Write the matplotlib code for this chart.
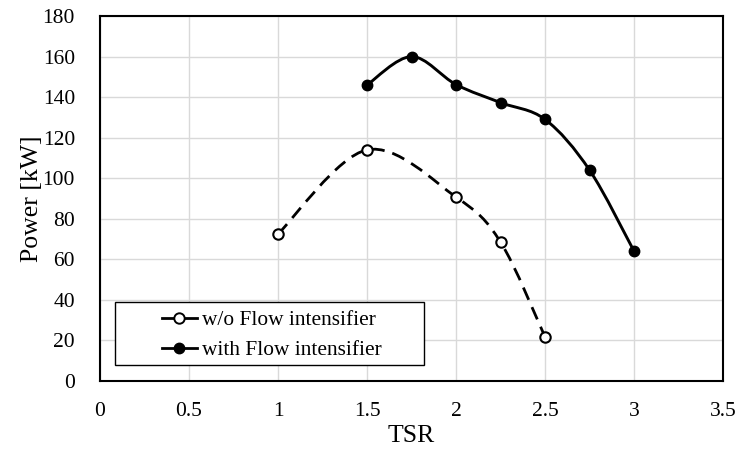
import numpy as np
import matplotlib.pyplot as plt
from matplotlib.path import Path
from matplotlib.patches import PathPatch, Rectangle
from matplotlib.lines import Line2D

plt.rcParams['font.family'] = ['Liberation Serif', 'DejaVu Serif']

tsr_without = [1.0, 1.5, 2.0, 2.25, 2.5]
power_without = [72.5, 114, 90.7, 68.5, 21.7]

tsr_with = [1.5, 1.75, 2.0, 2.25, 2.5, 2.75, 3.0]
power_with = [146, 160, 146.2, 137.3, 129, 104, 64]


def smooth_path(xs, ys):
    # excel-style smoothed line: catmull-rom segments as cubic beziers
    p = np.column_stack([xs, ys]).astype(float)
    ext = np.vstack([p[0], p, p[-1]])
    verts = [p[0]]
    codes = [Path.MOVETO]
    for i in range(len(p) - 1):
        p0, p1, p2, p3 = ext[i], ext[i + 1], ext[i + 2], ext[i + 3]
        verts += [p1 + (p2 - p0) / 6, p2 - (p3 - p1) / 6, p2]
        codes += [Path.CURVE4] * 3
    return Path(verts, codes)


fig = plt.figure(figsize=(7.47, 4.5), dpi=100)
ax = fig.add_axes([0.1339, 0.1533, 0.8341, 0.8111])

ax.add_patch(PathPatch(smooth_path(tsr_without, power_without), fill=False,
                       edgecolor='black', linewidth=2.0,
                       linestyle=(0, (4.8, 2.9)), zorder=3))
ax.plot(tsr_without, power_without, linestyle='none', marker='o', markersize=7.5,
        markerfacecolor='white', markeredgecolor='black', markeredgewidth=1.5, zorder=4)

ax.add_patch(PathPatch(smooth_path(tsr_with, power_with), fill=False,
                       edgecolor='black', linewidth=2.1, zorder=3))
ax.plot(tsr_with, power_with, linestyle='none', marker='o', markersize=7.5,
        markerfacecolor='black', markeredgecolor='black', zorder=4)

ax.set_xlim(0, 3.5)
ax.set_ylim(0, 180)
ax.set_xticks(np.arange(0, 3.51, 0.5))
ax.set_xticklabels(['0', '0.5', '1', '1.5', '2', '2.5', '3', '3.5'])
ax.set_yticks(np.arange(0, 181, 20))
ax.grid(True, color='#d9d9d9', linewidth=1)
ax.set_axisbelow(True)
ax.tick_params(length=0, labelsize=15.5, pad=15)
ax.tick_params(axis='y', pad=18)
for s in ax.spines.values():
    s.set_linewidth(1.5)

ax.set_xlabel('TSR', fontsize=18.5, labelpad=3)
ax.set_ylabel('Power [kW]', fontsize=18.5, labelpad=0)

# legend box
ax.add_patch(Rectangle((0.024, 0.044), 0.496, 0.172, transform=ax.transAxes,
                       facecolor='white', edgecolor='black', linewidth=1, zorder=5))
handles = [
    Line2D([], [], color='black', linestyle='-', linewidth=2, marker='o',
           markersize=7.5, markerfacecolor='white', markeredgewidth=1.4),
    Line2D([], [], color='black', linestyle='-', linewidth=2, marker='o',
           markersize=7.5, markerfacecolor='black'),
]
leg = ax.legend(handles, ['w/o Flow intensifier', 'with Flow intensifier'],
                loc='center', bbox_to_anchor=(0.276, 0.125), frameon=False,
                fontsize=15.4, handlelength=1.6, handletextpad=0.25, labelspacing=0.48)
leg.set_zorder(6)

fig.savefig('out.png', dpi=100)
